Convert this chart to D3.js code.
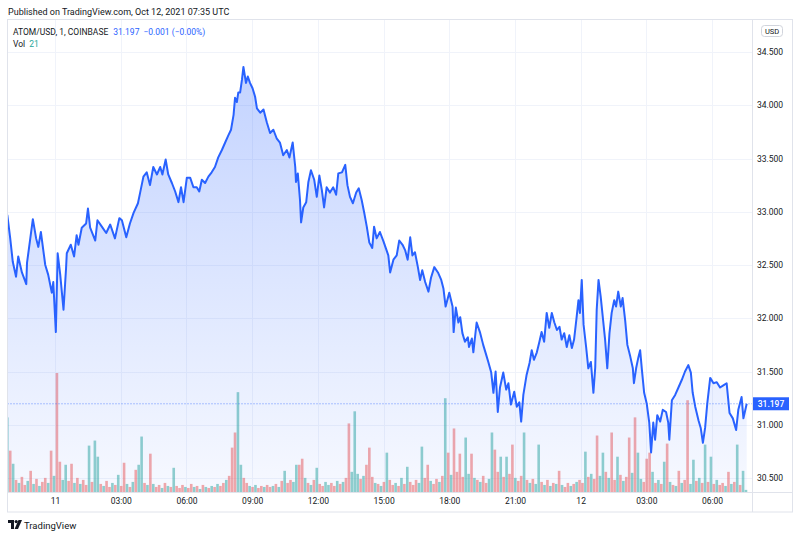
<!DOCTYPE html>
<html>
<head>
<meta charset="utf-8">
<script src="https://cdn.jsdelivr.net/npm/d3@7"></script>
<style>
  body { margin: 0; background: #fff; }
  svg text { font-family: Roboto, "Liberation Sans", sans-serif; }
</style>
</head>
<body>
<svg id="chart" width="800" height="538"></svg>
<script>
// ATOM/USD 1 minute, COINBASE. times are minutes after 2021-10-11 00:00 UTC
var priceMin = [
  -131,-123,-116,-107,-101,-91,-79,-77,-68,-61,
  -52,-46,-39,-27,-19,-9,-5,2,7,14,
  23,30,32,43,52,59,64,73,85,90,
  96,110,116,128,140,151,164,176,183,195,
  205,215,227,233,242,251,260,269,279,288,
  294,303,310,320,329,338,345,352,361,370,
  379,388,395,402,411,420,429,438,447,457,
  466,475,482,489,493,498,502,507,512,516,
  523,528,534,541,548,553,562,571,580,589,
  598,607,616,625,635,642,651,658,660,665,
  671,674,680,688,694,701,710,717,724,731,
  737,744,753,762,770,776,786,795,801,808,
  816,825,832,840,847,854,861,869,874,881,
  890,900,913,918,927,936,943,952,959,966,
  973,979,986,994,1000,1006,1014,1023,1030,1039,
  1049,1058,1064,1070,1080,1089,1092,1098,1105,1110,
  1116,1123,1131,1134,1142,1146,1155,1164,1173,1180,
  1187,1195,1201,1207,1213,1219,1228,1236,1242,1249,
  1258,1265,1272,1277,1283,1292,1300,1306,1312,1320,
  1327,1333,1340,1347,1354,1361,1368,1375,1382,1388,
  1395,1402,1409,1416,1422,1429,1434,1438,1443,1448,
  1455,1461,1468,1475,1480,1484,1489,1495,1501,1507,
  1513,1519,1525,1532,1537,1543,1550,1555,1562,1568,
  1576,1583,1586,1592,1598,1603,1608,1614,1621,1628,
  1633,1639,1644,1650,1658,1665,1674,1680,1683,1690,
  1699,1708,1717,1726,1735,1742,1747,1754,1763,1769,
  1775,1781,1787,1795,1804,1813,1822,1831,1840,1848,
  1857,1866,1872,1881,1886,1895
];
var priceVal = [
  32.97,32.75,32.53,32.39,32.58,32.43,32.32,32.52,32.75,32.93,
  32.75,32.67,32.81,32.50,32.41,32.24,32.34,31.87,32.61,32.41,
  32.08,32.47,32.61,32.69,32.58,32.78,32.69,32.85,32.89,33.03,
  32.85,32.73,32.92,32.86,32.80,32.88,32.75,32.94,32.92,32.76,
  32.89,32.99,33.08,33.18,33.33,33.37,33.25,33.42,33.35,33.42,
  33.35,33.49,33.35,33.27,33.19,33.09,33.23,33.09,33.32,33.32,
  33.23,33.23,33.19,33.30,33.27,33.33,33.37,33.42,33.51,33.58,
  33.65,33.72,33.77,33.91,34.07,34.03,34.12,34.12,34.24,34.36,
  34.21,34.27,34.21,34.16,34.08,33.97,33.93,33.96,33.84,33.74,
  33.77,33.69,33.65,33.53,33.58,33.51,33.65,33.42,33.28,33.36,
  33.11,32.90,33.04,33.09,33.28,33.39,33.30,33.14,33.34,33.20,
  33.04,33.23,33.18,33.23,33.16,33.36,33.37,33.44,33.25,33.14,
  33.08,33.18,33.22,33.11,32.99,32.86,32.71,32.66,32.86,32.75,
  32.81,32.72,32.59,32.43,32.55,32.59,32.73,32.69,32.64,32.55,
  32.76,32.59,32.62,32.48,32.36,32.45,32.34,32.25,32.38,32.48,
  32.43,32.36,32.28,32.11,32.24,32.11,31.87,32.10,31.96,32.01,
  31.86,31.78,31.82,31.73,31.81,31.68,31.96,31.87,31.75,31.67,
  31.59,31.49,31.30,31.50,31.12,31.35,31.49,31.33,31.39,31.19,
  31.31,31.17,31.21,31.03,31.28,31.47,31.58,31.70,31.61,31.68,
  31.78,31.87,31.78,32.05,31.91,32.05,31.96,31.89,31.92,31.80,
  31.86,31.73,31.84,31.72,31.80,32.01,32.17,32.05,32.36,31.94,
  31.73,31.53,31.59,31.30,31.54,32.08,32.36,32.20,32.00,31.80,
  31.53,31.86,32.05,32.17,32.11,32.25,32.11,32.19,31.98,31.75,
  31.64,31.53,31.39,31.53,31.63,31.70,31.51,31.30,31.20,31.02,
  30.74,31.02,30.86,31.09,31.03,31.14,31.12,31.02,30.86,31.23,
  31.28,31.35,31.42,31.50,31.56,31.49,31.30,31.17,31.04,30.97,
  30.83,30.97,31.20,31.44,31.39,31.40,31.35,31.37,31.39,31.11,
  31.06,30.95,31.14,31.26,31.06,31.197
];

// volume, one bar per 8 minutes starting at volStart
var volStart = -131, volStep = 8;
var volume = [
  740,410,280,120,90,150,70,110,210,80,
  130,60,100,140,90,410,160,1180,300,120,
  270,110,280,90,140,80,120,70,460,100,
  510,350,80,60,110,50,90,70,170,60,
  290,80,50,100,220,270,550,90,70,380,
  80,50,70,40,90,60,50,240,60,40,
  70,50,40,80,50,60,30,70,50,40,
  60,50,80,60,90,120,160,440,590,990,
  270,140,90,60,50,70,40,60,50,70,
  50,60,80,50,110,210,90,120,100,270,
  270,330,140,90,70,120,240,80,60,100,
  70,90,60,110,80,100,140,680,200,800,
  180,130,160,270,440,150,90,80,60,100,
  390,120,70,90,60,140,80,250,100,70,
  120,90,450,140,270,110,80,130,100,160,
  930,390,170,630,200,380,150,540,180,380,
  140,120,100,160,90,130,590,420,200,350,
  150,350,180,470,140,110,160,590,120,90,
  130,80,470,100,70,120,60,90,80,210,
  70,50,90,60,80,100,120,90,400,150,
  180,130,560,160,390,200,140,590,120,350,
  170,110,150,540,190,740,390,130,100,330,
  390,200,90,120,80,300,480,100,70,60,
  210,90,120,910,80,320,110,140,90,470,
  100,350,80,120,70,90,60,200,80,100,
  470,70,210,21
];
// u = up bar (teal), d = down bar (red)
var volDir = (
  "udududdudu" + "duddududdu" + "uddududdud" + "uududdudud" + "dududuudud" +
  "uddudududd" + "duddududud" + "ududdudddu" + "uddududdud" + "dudududduu" +
  "ddudududdu" + "uddududduu" + "ududddudud" + "uddudududd" + "duudduddud" +
  "ududddduud" + "ududduuddu" + "dudduddudu" + "duudududud" + "uddududdud" +
  "udduududdu" + "dudduduudd" + "dududududu" + "dudduududu" + "dududdudud" +
  "uduu"
).split("");

var priceTicks = [30.5, 31, 31.5, 32, 32.5, 33, 33.5, 34, 34.5];
var timeTicksMin = [0, 180, 360, 540, 720, 900, 1080, 1260, 1440, 1620, 1800];
var lastPrice = 31.197, lastChange = "\u22120.001 (\u22120.00%)", lastVol = 21;

var base = Date.UTC(2021, 9, 11);
var toDate = function (m) { return new Date(base + m * 60000); };

var pane = { left: 7.5, right: 752, top: 19.5, bottom: 492 };
var outerRight = 792.5, outerBottom = 512;

var svg = d3.select("#chart");

var x = d3.scaleUtc()
  .domain([toDate(priceMin[0]), toDate(priceMin[priceMin.length - 1])])
  .range([7.3, 746.7]);
var y = d3.scaleLinear().domain([30.5, 34.5]).range([478, 52]);

var points = priceMin.map(function (m, i) { return { t: toDate(m), v: priceVal[i] }; });
var volData = volume.map(function (v, i) {
  return { t: toDate(volStart + i * volStep), v: v, up: volDir[i] === "u" };
});
var yVol = d3.scaleLinear().domain([0, d3.max(volume)]).range([pane.bottom, pane.bottom - 119]);

// grid
var grid = svg.append("g");
grid.selectAll("line.h").data(priceTicks).enter().append("line")
  .attr("x1", pane.left).attr("x2", pane.right)
  .attr("y1", function (d) { return Math.round(y(d)) + 0.5; })
  .attr("y2", function (d) { return Math.round(y(d)) + 0.5; })
  .attr("stroke", "#f0f3fa");
grid.selectAll("line.v").data(timeTicksMin).enter().append("line")
  .attr("y1", pane.top).attr("y2", pane.bottom)
  .attr("x1", function (d) { return Math.round(x(toDate(d))) + 0.5; })
  .attr("x2", function (d) { return Math.round(x(toDate(d))) + 0.5; })
  .attr("stroke", "#f0f3fa");

var defs = svg.append("defs");
defs.append("clipPath").attr("id", "paneClip").append("rect")
  .attr("x", pane.left).attr("y", pane.top)
  .attr("width", pane.right - pane.left).attr("height", pane.bottom - pane.top);
var grad = defs.append("linearGradient").attr("id", "areaGrad")
  .attr("gradientUnits", "userSpaceOnUse")
  .attr("x1", 0).attr("x2", 0).attr("y1", y(d3.max(priceVal))).attr("y2", pane.bottom);
grad.append("stop").attr("offset", "0%").attr("stop-color", "#2962ff").attr("stop-opacity", 0.28);
grad.append("stop").attr("offset", "100%").attr("stop-color", "#2962ff").attr("stop-opacity", 0.04);

var plot = svg.append("g").attr("clip-path", "url(#paneClip)");

// volume bars
plot.selectAll("rect.vol").data(volData).enter().append("rect")
  .attr("x", function (d) { return x(d.t) - 1.3; })
  .attr("width", 2.6)
  .attr("y", function (d) { return yVol(d.v); })
  .attr("height", function (d) { return pane.bottom - yVol(d.v); })
  .attr("fill", function (d) { return d.up ? "rgba(38,166,154,0.5)" : "rgba(239,83,80,0.5)"; });

var area = d3.area()
  .x(function (d) { return x(d.t); })
  .y0(pane.bottom)
  .y1(function (d) { return y(d.v); });
plot.append("path").datum(points).attr("d", area).attr("fill", "url(#areaGrad)");

// last price dotted line
plot.append("line")
  .attr("x1", pane.left).attr("x2", pane.right)
  .attr("y1", y(lastPrice)).attr("y2", y(lastPrice))
  .attr("stroke", "#2962ff").attr("stroke-opacity", 0.7)
  .attr("stroke-dasharray", "1,2");

var line = d3.line()
  .x(function (d) { return x(d.t); })
  .y(function (d) { return y(d.v); });
plot.append("path").datum(points).attr("d", line)
  .attr("fill", "none").attr("stroke", "#2962ff")
  .attr("stroke-width", 2).attr("stroke-linejoin", "round");

// frame
var frameColor = "#e0e3eb";
svg.append("rect").attr("x", pane.left).attr("y", pane.top)
  .attr("width", outerRight - pane.left).attr("height", outerBottom - pane.top)
  .attr("fill", "none").attr("stroke", frameColor);
svg.append("line").attr("x1", pane.right + 0.5).attr("x2", pane.right + 0.5)
  .attr("y1", pane.top).attr("y2", outerBottom).attr("stroke", frameColor);
svg.append("line").attr("x1", pane.left).attr("x2", outerRight)
  .attr("y1", pane.bottom + 0.5).attr("y2", pane.bottom + 0.5).attr("stroke", frameColor);

// price axis
var yAxis = d3.axisRight(y).tickValues(priceTicks).tickFormat(d3.format(".3f")).tickSize(0).tickPadding(0);
var ya = svg.append("g").attr("transform", "translate(" + 757 + ",0)").call(yAxis);
ya.select(".domain").remove();
ya.selectAll("text").attr("font-size", "8.5px").attr("fill", "#131722")
  .attr("font-family", "Roboto, sans-serif");

// time axis
var fmtTime = function (d) {
  return d.getUTCHours() === 0 ? d3.utcFormat("%-d")(d) : d3.utcFormat("%H:%M")(d);
};
var xAxis = d3.axisBottom(x).tickValues(timeTicksMin.map(toDate)).tickFormat(fmtTime).tickSize(0).tickPadding(0);
var xa = svg.append("g").attr("transform", "translate(0," + 498 + ")").call(xAxis);
xa.select(".domain").remove();
xa.selectAll("text").attr("font-size", "8.5px").attr("fill", "#131722")
  .attr("font-family", "Roboto, sans-serif");

// last price label
var lp = svg.append("g");
lp.append("rect").attr("x", 753).attr("y", y(lastPrice) - 6.5).attr("width", 36).attr("height", 13)
  .attr("fill", "#2962ff");
lp.append("text").attr("x", 771).attr("y", y(lastPrice) + 3).attr("text-anchor", "middle")
  .attr("font-size", "8.5px").attr("fill", "#fff").attr("font-weight", 500).text(d3.format(".3f")(lastPrice));

// USD badge
svg.append("rect").attr("x", 761.5).attr("y", 25.5).attr("width", 21).attr("height", 11).attr("rx", 3)
  .attr("fill", "#fff").attr("stroke", "#d1d4dc");
svg.append("text").attr("x", 772).attr("y", 34).attr("text-anchor", "middle")
  .attr("font-size", "7.5px").attr("fill", "#131722").text("USD");

// header + legend
svg.append("text").attr("x", 8).attr("y", 15).attr("font-size", "9px").attr("fill", "#131722")
  .text("Published on TradingView.com, Oct 12, 2021 07:35 UTC");
var lg = svg.append("text").attr("x", 13).attr("y", 35).attr("font-size", "8.5px").attr("fill", "#131722");
lg.append("tspan").text("ATOM/USD, 1, COINBASE");
lg.append("tspan").attr("dx", 5).attr("fill", "#2962ff").text(d3.format(".3f")(lastPrice));
lg.append("tspan").attr("dx", 4).attr("fill", "#2962ff").text(lastChange);
var vl = svg.append("text").attr("x", 13).attr("y", 46.5).attr("font-size", "8.5px").attr("fill", "#131722");
vl.append("tspan").text("Vol");
vl.append("tspan").attr("dx", 4).attr("fill", "#26a69a").text(lastVol);

// TradingView logo
var logo = svg.append("g").attr("transform", "translate(8,520)").attr("fill", "#131722");
logo.append("path").attr("d", "M0 0 H6 V9 H3 V3 H0 Z");
logo.append("circle").attr("cx", 8.2).attr("cy", 1.6).attr("r", 1.6);
logo.append("path").attr("d", "M10.5 0 H14 L10 9 H6.6 Z");
svg.append("text").attr("x", 24).attr("y", 528.5).attr("font-size", "9.5px").attr("fill", "#131722")
  .text("TradingView");
</script>
</body>
</html>
